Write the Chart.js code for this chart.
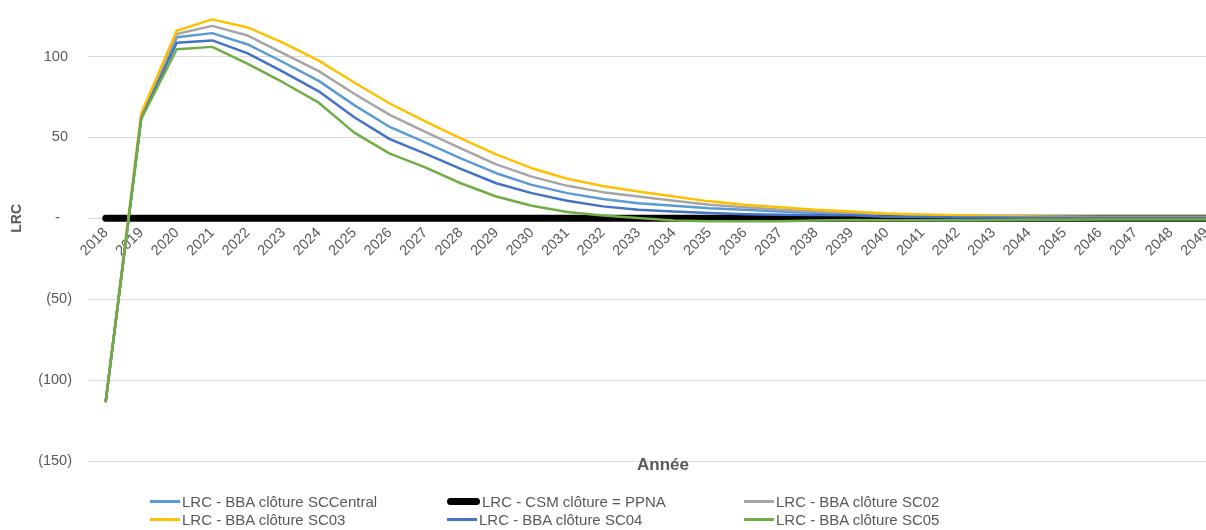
<!DOCTYPE html>
<html lang="fr">
<head>
<meta charset="utf-8">
<title>LRC par année</title>
<script src="https://cdn.jsdelivr.net/npm/chart.js@4.4.0/dist/chart.umd.min.js"></script>
<style>
  html, body { margin: 0; padding: 0; background: #fff; width: 1206px; height: 530px; overflow: hidden; }
  #wrap { position: absolute; left: 0; top: -49px; width: 1240px; height: 579px; }
  #axisTitle {
    position: absolute; left: 563px; width: 200px; top: 455px; text-align: center;
    font: bold 17px "Liberation Sans", Arial, sans-serif; color: #595959;
  }
  #legend {
    position: absolute; left: 150px; top: 492px;
    display: grid; grid-template-columns: 297px 297px 297px; grid-auto-rows: 18px;
    font: 15px "Liberation Sans Narrow", "Liberation Sans", Arial, sans-serif; color: #595959;
    font-variant-numeric: oldstyle-nums;
  }
  .item { display: flex; align-items: center; white-space: nowrap; }
  .swatch { display: inline-block; margin-right: 2px; }
</style>
</head>
<body>
<div id="wrap"><canvas id="c" width="1240" height="579"></canvas></div>
<div id="axisTitle">Année</div>
<div id="legend"></div>
<script>
// Years on the horizontal axis
const years = [2018, 2019, 2020, 2021, 2022, 2023, 2024, 2025, 2026, 2027, 2028, 2029, 2030, 2031, 2032, 2033,
               2034, 2035, 2036, 2037, 2038, 2039, 2040, 2041, 2042, 2043, 2044, 2045, 2046, 2047, 2048, 2049];

// LRC values per scenario
const bbaCentral = [-113, 62.5, 112, 114.5, 107.5, 96.5, 85, 70, 56.5, 47, 37.1, 27.9, 20.7, 15.6, 12, 9.4,
                    7.8, 6.3, 5.3, 4.3, 3.5, 2.7, 2.0, 1.5, 1.2, 1.0, 0.8, 0.7, 0.6, 0.6, 0.6, 0.6];
const csmPpna    = [0, 0, 0, 0, 0, 0, 0, 0, 0, 0, 0, 0, 0, 0, 0, 0,
                    0, 0, 0, 0, 0, 0, 0, 0, 0, 0, 0, 0, 0, 0, 0, 0];
const bbaSc02    = [-113, 63.5, 114, 119, 113, 102, 91, 77, 64, 53.5, 43.2, 33.4, 25.8, 20.1, 16.2, 13.5,
                    10.9, 8.4, 6.8, 5.3, 4.3, 3.3, 2.5, 2.0, 1.6, 1.3, 1.2, 1.1, 1.0, 1.0, 1.0, 1.0];
const bbaSc03    = [-113, 65, 116, 123, 118, 108.5, 97.5, 84, 71, 60, 49.4, 39.5, 31, 24.5, 20, 16.6,
                    13.5, 10.5, 8.4, 6.8, 5.3, 4.3, 3.0, 2.4, 1.9, 1.4, 1.1, 0.9, 0.8, 0.8, 0.8, 0.8];
const bbaSc04    = [-113, 62, 108.5, 110, 102, 90.5, 78.5, 62.5, 49, 40, 30.6, 21.7, 15.6, 10.9, 7.4, 5.3,
                    4.3, 3.3, 2.6, 2.3, 2.0, 1.9, 1.0, 0.8, 0.6, 0.5, 0.4, 0.3, 0.3, 0.3, 0.3, 0.3];
const bbaSc05    = [-113, 61.5, 104.5, 106, 95.5, 84, 71.5, 53, 40, 31.5, 21.7, 13.5, 7.8, 3.9, 1.8, 0.2,
                    -1.4, -1.8, -1.8, -1.8, -1.4, -1.0, -1.2, -1.2, -1.1, -1.0, -0.9, -0.8, -0.7, -0.7, -0.7, -0.7];

// Y axis tick values and their accounting-style labels
const yTicks = [150, 100, 50, 0, -50, -100, -150];
function accounting(v) {
  if (v === 0) return '-   ';
  if (v < 0) return '(' + Math.abs(v) + ')';
  return v + ' ';
}

const seriesDefs = [
  { label: 'LRC - BBA clôture SCCentral', data: bbaCentral, color: '#5B9BD5', width: 2.5 },
  { label: 'LRC - CSM clôture = PPNA',    data: csmPpna,    color: '#000000', width: 7 },
  { label: 'LRC - BBA clôture SC02',      data: bbaSc02,    color: '#A5A5A5', width: 2.5 },
  { label: 'LRC - BBA clôture SC03',      data: bbaSc03,    color: '#FFC000', width: 2.5 },
  { label: 'LRC - BBA clôture SC04',      data: bbaSc04,    color: '#4472C4', width: 2.5 },
  { label: 'LRC - BBA clôture SC05',      data: bbaSc05,    color: '#70AD47', width: 2.5 }
];

const tickFont = { family: '"Liberation Sans", Arial, sans-serif', size: 14.5 };

const chart = new Chart(document.getElementById('c'), {
  type: 'line',
  data: {
    labels: years.map(String),
    datasets: seriesDefs.map((s, i) => ({
      label: s.label,
      data: s.data,
      borderColor: s.color,
      backgroundColor: s.color,
      borderWidth: s.width,
      borderCapStyle: 'round',
      borderJoinStyle: 'round',
      pointRadius: 0,
      pointHoverRadius: 0,
      tension: 0,
      fill: false,
      order: seriesDefs.length - i   // later series drawn on top
    }))
  },
  options: {
    responsive: false,
    devicePixelRatio: 1,
    animation: false,
    layout: { padding: { left: 0, top: 0, right: 16, bottom: 69 } },
    plugins: { legend: { display: false }, tooltip: { enabled: false } },
    scales: {
      x: {
        type: 'category',
        position: { y: 0 },
        offset: true,
        grid: { display: false, drawTicks: false },
        border: { display: false },
        ticks: {
          autoSkip: false, minRotation: 45, maxRotation: 45, padding: 6,
          color: '#595959', font: tickFont
        }
      },
      y: {
        min: -150, max: 150,
        afterBuildTicks: (scale) => { scale.ticks = yTicks.map(v => ({ value: v })); },
        afterFit: (scale) => { scale.width = 88; },
        grid: { color: '#D9D9D9', lineWidth: 1, drawTicks: false },
        border: { display: false },
        ticks: {
          padding: 16, color: '#595959', font: tickFont,
          callback: (v) => accounting(v)
        },
        title: {
          display: true, text: 'LRC', color: '#595959',
          font: { family: '"Liberation Sans", Arial, sans-serif', size: 14, weight: 'bold' },
          padding: { top: 9, bottom: 0 }
        }
      }
    }
  }
});

// Legend in three columns, built from the chart's datasets
const legend = document.getElementById('legend');
chart.data.datasets.forEach((ds) => {
  const item = document.createElement('div');
  item.className = 'item';
  const sw = document.createElement('span');
  sw.className = 'swatch';
  const thick = ds.borderWidth > 4;
  sw.style.width = thick ? '33px' : '30px';
  sw.style.height = thick ? '7px' : '3px';
  sw.style.borderRadius = thick ? '4px' : '0';
  sw.style.background = ds.borderColor;
  item.appendChild(sw);
  item.appendChild(document.createTextNode(ds.label));
  legend.appendChild(item);
});
</script>
</body>
</html>
